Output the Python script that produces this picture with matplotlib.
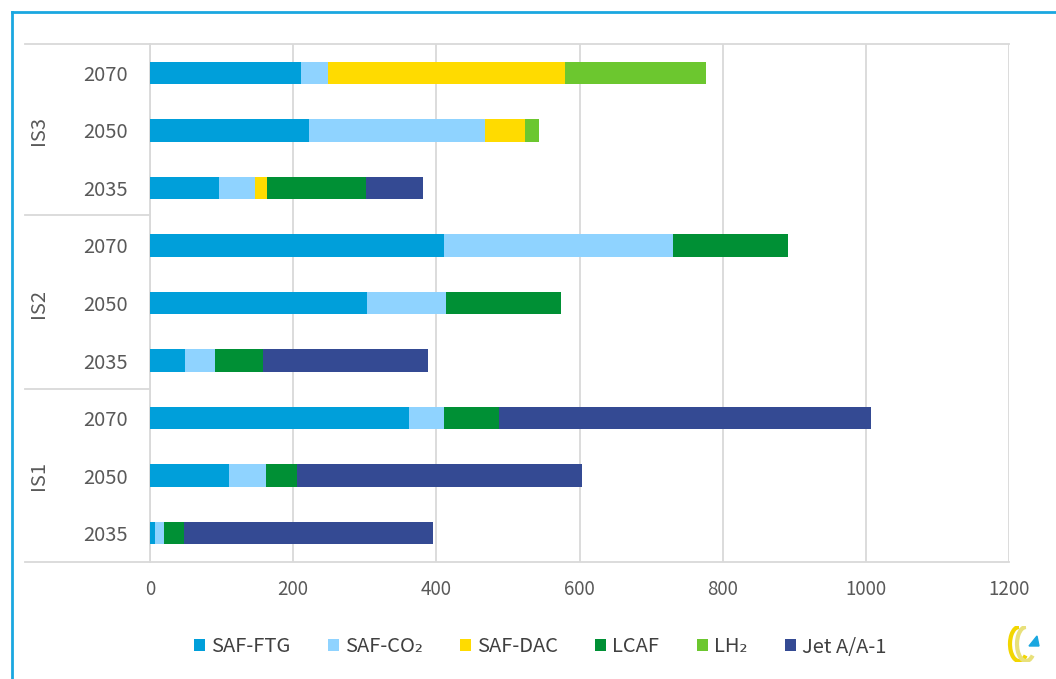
import matplotlib
matplotlib.use("Agg")
import matplotlib.pyplot as plt
import numpy as np
from matplotlib.lines import Line2D
from matplotlib.patches import Arc, Polygon

plt.rcParams['font.family'] = ['Noto Sans CJK KR', 'DejaVu Sans']

# Rows from bottom to top
groups = ['IS1', 'IS2', 'IS3']
years = ['2035', '2050', '2070']
series_names = ['SAF-FTG', 'SAF-CO₂', 'SAF-DAC', 'LCAF', 'LH₂', 'Jet A/A-1']
saf_ftg = [7, 111, 362, 49, 303, 411, 97, 222, 211]
saf_co2 = [13, 51, 49, 42, 110, 319, 49, 246, 38]
saf_dac = [0, 0, 0, 0, 0, 0, 18, 56, 331]
lcaf = [27, 44, 76, 67, 161, 161, 138, 0, 0]
lh2 = [0, 0, 0, 0, 0, 0, 0, 20, 197]
jet = [348, 397, 520, 231, 0, 0, 80, 0, 0]
x_ticks = [0, 200, 400, 600, 800, 1000, 1200]

colors = ['#009fda', '#8fd3ff', '#ffdb00', '#009035', '#6cc72f', '#344a93']

W, H = 1056, 679
fig = plt.figure(figsize=(W / 100, H / 100), dpi=100)


def px(x, y):
    return x / W, 1 - y / H


L, R, T, B = 150, 1009, 44, 562
ax = fig.add_axes([L / W, 1 - B / H, (R - L) / W, (B - T) / H])

data = [saf_ftg, saf_co2, saf_dac, lcaf, lh2, jet]
n = len(saf_ftg)
ypos = np.arange(n)
left = np.zeros(n)
for vals, c, name in zip(data, colors, series_names):
    vals = np.array(vals, dtype=float)
    ax.barh(ypos, vals, left=left, height=0.39, color=c, label=name, zorder=3)
    left += vals

ax.set_xlim(0, 1200)
ax.set_ylim(-0.5, n - 0.5)
ax.set_xticks(x_ticks)
ax.set_xticklabels([str(t) for t in x_ticks], fontsize=13.5, color='#595959')
ax.set_yticks(ypos)
ax.set_yticklabels(years * len(groups), fontsize=14.5, color='#595959')
ax.tick_params(axis='both', length=0)
ax.tick_params(axis='x', pad=12)
ax.tick_params(axis='y', pad=16)
ax.grid(axis='x', color='#d9d9d9', linewidth=1.3, zorder=0)
for s in ['top', 'right', 'bottom']:
    ax.spines[s].set_visible(False)
ax.spines['left'].set_color('#d9d9d9')
ax.spines['left'].set_linewidth(1.3)

line_kw = dict(color='#d9d9d9', linewidth=1.3, transform=fig.transFigure)
for yy in [T, B]:
    x0, y0 = px(25, yy)
    x1, _ = px(R, yy)
    fig.add_artist(Line2D([x0, x1], [y0, y0], **line_kw))
for yy in [215, 389]:
    x0, y0 = px(25, yy)
    x1, _ = px(L, yy)
    fig.add_artist(Line2D([x0, x1], [y0, y0], **line_kw))

row_h = (B - T) / n
for gi, g in enumerate(groups):
    yc = B - (gi * 3 + 1.5) * row_h
    fx, fy = px(38, yc)
    fig.text(fx, fy, g, rotation=90, ha='center', va='center',
             fontsize=14.5, color='#595959')

fx0, fy0 = px(12, 12)
fig.add_artist(Line2D([fx0, 1.0], [fy0, fy0], color='#1aa7e0', linewidth=2, transform=fig.transFigure))
fig.add_artist(Line2D([fx0, fx0], [0, fy0], color='#1aa7e0', linewidth=2, transform=fig.transFigure))

handles, labels = ax.get_legend_handles_labels()
lx, ly = px(540, 647)
fig.legend(handles, labels, loc='center', bbox_to_anchor=(lx, ly), ncol=6,
           frameon=False, fontsize=14.5, handlelength=0.55, handleheight=0.55,
           handletextpad=0.3, columnspacing=1.85, labelcolor='#404040')

lax = fig.add_axes([1003 / W, 1 - 662 / H, 40 / W, 36 / H])
lax.set_xlim(0, 40)
lax.set_ylim(0, 36)
lax.axis('off')
lax.add_patch(Arc((16, 18), 18, 34, theta1=90, theta2=300, color='#f2d600', linewidth=3))
lax.add_patch(Arc((23, 18), 18, 34, theta1=90, theta2=300, color='#e8e07a', linewidth=3))
lax.add_patch(Polygon([[26, 16], [36, 16], [34, 26]], closed=True, color='#1aa7e0'))

fig.savefig('out.png', dpi=100)
